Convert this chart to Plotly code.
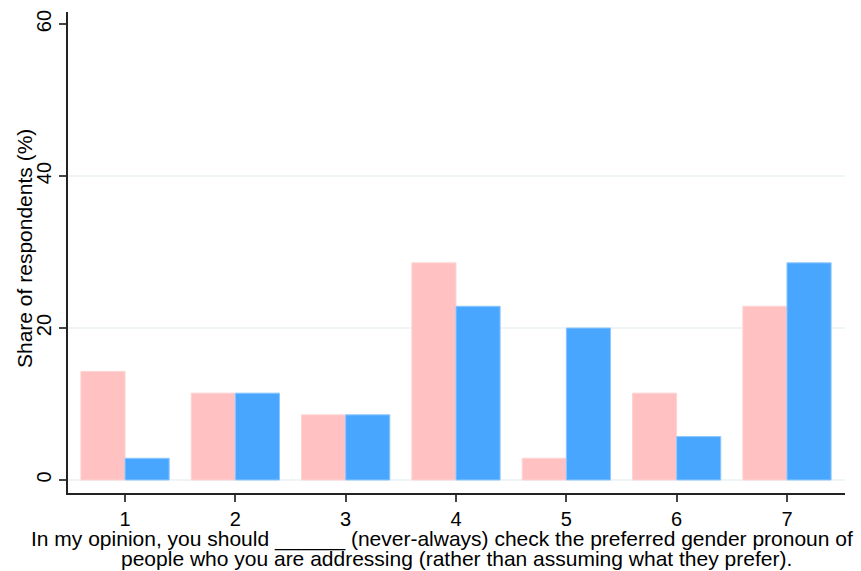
import plotly.graph_objects as go

categories = [1, 2, 3, 4, 5, 6, 7]
pink_values = [14.29, 11.43, 8.57, 28.57, 2.86, 11.43, 22.86]
blue_values = [2.86, 11.43, 8.57, 22.86, 20.00, 5.71, 28.57]
y_ticks = [0, 20, 40, 60]
grid_values = [0, 20, 40]

x_title_1 = "In my opinion, you should ______ (never-always) check the preferred gender pronoun of"
x_title_2 = "people who you are addressing (rather than assuming what they prefer)."
y_title = "Share of respondents (%)"

FONT = "Liberation Sans, Arial, sans-serif"
TITLE_SIZE = 21
TICK_SIZE = 20

fig = go.Figure()
fig.add_trace(go.Bar(x=categories, y=pink_values, marker=dict(color="#FFC1C1", line=dict(color="#FFD3D3", width=1)), showlegend=False))
fig.add_trace(go.Bar(x=categories, y=blue_values, marker=dict(color="#48A6FF", line=dict(color="#8CC6FF", width=1)), showlegend=False))

for g in grid_values:
    fig.add_shape(type="line", xref="paper", yref="y", x0=0, x1=1, y0=g, y1=g,
                  line=dict(color="#EAF2F3", width=1.5), layer="below")

fig.update_layout(
    width=861, height=571,
    margin=dict(l=68, r=16, t=12, b=78, autoexpand=False),
    paper_bgcolor="white", plot_bgcolor="white",
    barmode="group", bargap=0.2, bargroupgap=0,
    font=dict(family=FONT, size=TICK_SIZE, color="black"),
    xaxis=dict(range=[0.483, 7.526], tickvals=categories, ticktext=[str(c) for c in categories],
               showgrid=False, zeroline=False, showline=True, linecolor="#222", linewidth=1.5,
               ticks="outside", ticklen=7, tickwidth=1.5, tickcolor="#444", automargin=False,
               ticklabelstandoff=0,
               tickfont=dict(size=TICK_SIZE, family=FONT, color="black")),
    yaxis=dict(range=[-1.71, 61.58], tickvals=y_ticks, ticktext=[str(t) for t in y_ticks],
               showgrid=False, zeroline=False, showline=True, linecolor="#222", linewidth=1.5,
               ticks="outside", ticklen=7, tickwidth=1.5, tickcolor="#444", tickangle=-90,
               automargin=False, tickfont=dict(size=TICK_SIZE, family=FONT, color="black")),
    annotations=[
        dict(text=x_title_1, xref="paper", yref="paper", x=(442 - 68) / 777, y=(493 - 539) / 481,
             xanchor="center", yanchor="middle", showarrow=False,
             font=dict(size=TITLE_SIZE, family=FONT, color="black")),
        dict(text=x_title_2, xref="paper", yref="paper", x=(456.5 - 68) / 777, y=(493 - 558) / 481,
             xanchor="center", yanchor="middle", showarrow=False,
             font=dict(size=TITLE_SIZE, family=FONT, color="black")),
        dict(text=y_title, xref="paper", yref="paper", x=(24 - 68) / 777, y=(493 - 249) / 481,
             xanchor="center", yanchor="middle", textangle=-90, showarrow=False,
             font=dict(size=TITLE_SIZE, family=FONT, color="black")),
    ],
)

fig.write_html("out.html", config={"displayModeBar": False},
               post_script="document.body.style.margin='0';")
